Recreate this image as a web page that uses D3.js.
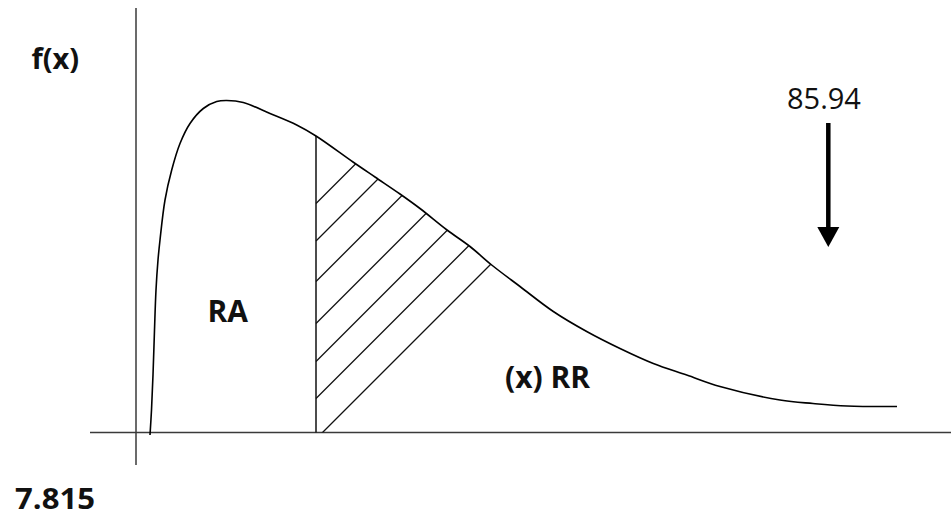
<!DOCTYPE html>
<html>
<head>
<meta charset="utf-8">
<script src="https://cdn.jsdelivr.net/npm/d3@7"></script>
<style>
  html, body { margin: 0; padding: 0; background: #fff; }
  svg { display: block; }
  text { font-family: "Open Sans", "Noto Sans", sans-serif; fill: #111; }
</style>
</head>
<body>
<div id="chart"></div>
<script>
// density curve (x along the axis, f(x) above it)
var curveX = [14, 15.5, 17, 18.5, 20, 22, 24, 29, 35.7, 44, 54, 67.3, 80.7, 90.7, 107.3, 134, 160.7, 180,
              217, 239, 264, 284, 311, 334, 355.7, 384, 417.3, 450.7, 484, 517.3, 550.7, 584, 644, 677, 711, 761];
var curveY = [-2.5, 22.5, 57.5, 102.5, 142.5, 172.5, 192.5, 232.5, 262.5, 289, 309, 324, 331, 332, 330, 319, 307.5, 296.5,
              270.5, 255.5, 238.5, 224, 202.5, 186, 167.5, 146, 121, 101, 84, 69, 57.5, 46, 32.5, 29, 26.5, 26];

// critical value position and the hatch lines (height where each meets the cut)
var cutX = 180;
var hatchHeights = [229, 191.5, 151, 109, 71, 34, -6.5];

// test statistic arrow
var statX = 692.3;
var statTop = 309.5;
var statTip = 185.5;

var labels = ["f(x)", "RA", "(x) RR", "85.94", "7.815"];

var width = 951, height = 517;

var svg = d3.select("#chart")
    .append("svg")
    .attr("width", width)
    .attr("height", height);

var x = d3.scaleLinear().domain([0, 815]).range([136, 951]);
var y = d3.scaleLinear().domain([0, 432.5]).range([432.5, 0]);

var pts = curveX.map(function (d, i) { return [d, curveY[i]]; });

// axes, plain crossing lines
svg.append("line")
    .attr("x1", x(-46)).attr("x2", x(815))
    .attr("y1", y(0)).attr("y2", y(0))
    .attr("stroke", "#3a3a3a")
    .attr("stroke-width", 1.5);

svg.append("line")
    .attr("x1", x(0)).attr("x2", x(0))
    .attr("y1", y(424.5)).attr("y2", y(-32.5))
    .attr("stroke", "#3a3a3a")
    .attr("stroke-width", 1.5);

// clip for hatching: area under the curve
var area = d3.area()
    .x(function (d) { return x(d[0]); })
    .y0(y(0))
    .y1(function (d) { return y(Math.max(0, d[1])); })
    .curve(d3.curveCatmullRom.alpha(0.5));

svg.append("clipPath")
    .attr("id", "under")
    .append("path")
    .attr("d", area(pts));

svg.append("g")
    .attr("clip-path", "url(#under)")
    .selectAll("line")
    .data(hatchHeights)
    .enter().append("line")
    .attr("x1", x(cutX))
    .attr("y1", function (d) { return y(d); })
    .attr("x2", x(cutX + 400))
    .attr("y2", function (d) { return y(d + 400); })
    .attr("stroke", "#111")
    .attr("stroke-width", 1.3);

// cut line at the critical value
var cutIdx = curveX.indexOf(cutX);
svg.append("line")
    .attr("x1", x(cutX)).attr("x2", x(cutX))
    .attr("y1", y(0)).attr("y2", y(curveY[cutIdx]))
    .attr("stroke", "#111")
    .attr("stroke-width", 1.5);

// the density curve
var line = d3.line()
    .x(function (d) { return x(d[0]); })
    .y(function (d) { return y(d[1]); })
    .curve(d3.curveCatmullRom.alpha(0.5));

svg.append("path")
    .attr("d", line(pts))
    .attr("fill", "none")
    .attr("stroke", "#000")
    .attr("stroke-width", 1.6);

// arrow pointing down at the statistic
svg.append("line")
    .attr("x1", x(statX)).attr("x2", x(statX))
    .attr("y1", y(statTop)).attr("y2", y(statTip + 18))
    .attr("stroke", "#000")
    .attr("stroke-width", 4.5);

svg.append("path")
    .attr("d", "M" + (x(statX) - 11) + "," + y(statTip + 20) +
               "L" + (x(statX) + 11) + "," + y(statTip + 20) +
               "L" + x(statX) + "," + y(statTip) + "Z")
    .attr("fill", "#000");

// labels
svg.append("text")
    .attr("x", x(-104.5)).attr("y", y(364))
    .style("font-size", "29px").style("font-weight", "bold")
    .text(labels[0]);

svg.append("text")
    .attr("x", x(71.5)).attr("y", y(110.2))
    .style("font-size", "30px").style("font-weight", "bold")
    .text(labels[1]);

svg.append("text")
    .attr("x", x(369)).attr("y", y(44.2))
    .style("font-size", "30px").style("font-weight", "bold")
    .text(labels[2]);

svg.append("text")
    .attr("x", x(651)).attr("y", y(323.2))
    .style("font-size", "29px")
    .text(labels[3]);

svg.append("text")
    .attr("x", x(-121)).attr("y", y(-76))
    .attr("textLength", 80)
    .attr("lengthAdjust", "spacingAndGlyphs")
    .style("font-size", "29px").style("font-weight", "bold")
    .text(labels[4]);
</script>
</body>
</html>
